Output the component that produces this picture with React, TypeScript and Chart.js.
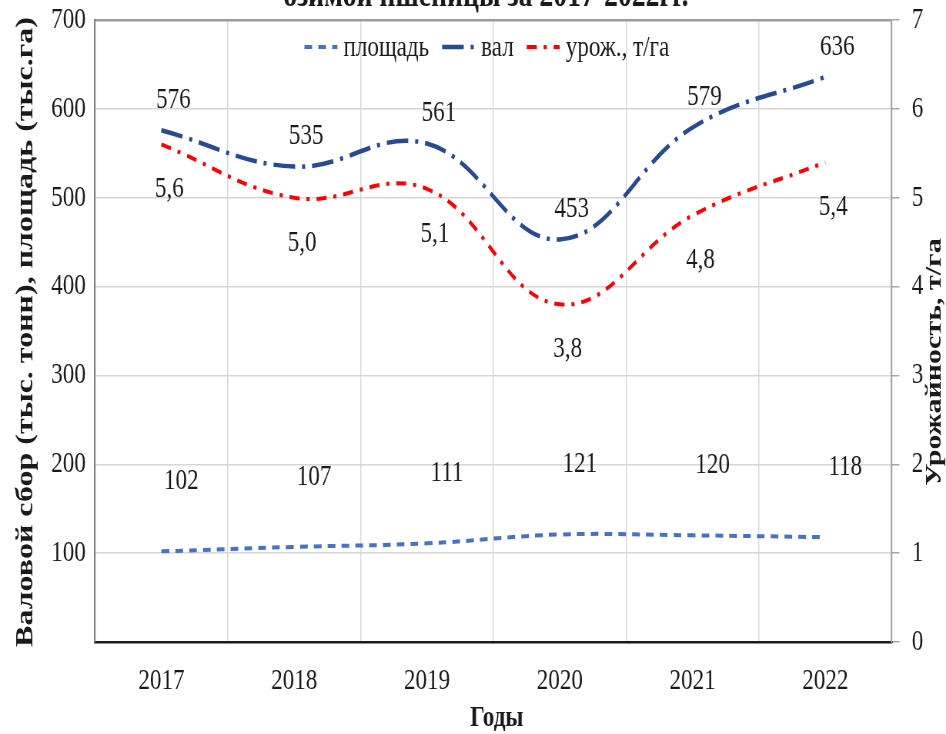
import React, { useEffect, useRef } from "react";
import { Chart, registerables } from "chart.js";

Chart.register(...registerables);

// ---- data ----
const years = ["2017", "2018", "2019", "2020", "2021", "2022"];
const areaValues = [102, 107, 111, 121, 120, 118];
const grossValues = [576, 535, 561, 453, 579, 636];
const yieldValues = [5.6, 5.0, 5.1, 3.8, 4.8, 5.4];
const seriesNames = ["площадь", "вал", "урож., т/га"];
const chartTitle = "озимой пшеницы за 2017-2022гг.";
const leftTitle = "Валовой сбор (тыс. тонн), площадь (тыс.га)";
const rightTitle = "Урожайность, т/га";
const xTitle = "Годы";

// ---- geometry (the reference is horizontally compressed) ----
const W = 946;
const H = 734;
const SX = 0.77;
const LW = Math.round(W / SX);
const L = (x: number) => x / SX;
const FAMILY = '"Liberation Serif", "Times New Roman", serif';
const TEXT = "#1a1a1a";

const decorPlugin = {
  id: "decor",
  afterDatasetsDraw(chart: any) {
    const ctx = chart.ctx as CanvasRenderingContext2D;
    const cfg = [
      { ds: 0, dx: L(20), dy: -70, fmt: (v: number) => String(v) },
      { ds: 1, dx: L(12), dy: -30, fmt: (v: number) => String(v) },
      { ds: 2, dx: L(8), dy: 45, fmt: (v: number) => v.toFixed(1).replace(".", ",") },
    ];
    ctx.save();
    ctx.font = `30px ${FAMILY}`;
    ctx.fillStyle = TEXT;
    ctx.textAlign = "center";
    ctx.textBaseline = "middle";
    for (const c of cfg) {
      const meta = chart.getDatasetMeta(c.ds);
      const data = chart.data.datasets[c.ds].data as number[];
      meta.data.forEach((pt: any, i: number) => {
        ctx.fillText(c.fmt(data[i]), pt.x + c.dx, pt.y + c.dy);
      });
    }
    ctx.restore();
  },
  afterDraw(chart: any) {
    const ctx = chart.ctx as CanvasRenderingContext2D;
    ctx.save();
    ctx.fillStyle = TEXT;

    // title (cut at the top)
    ctx.font = `bold 36px ${FAMILY}`;
    ctx.textAlign = "center";
    ctx.textBaseline = "alphabetic";
    ctx.fillText(chartTitle, L(486), 6);

    // x title
    ctx.font = `bold 30px ${FAMILY}`;
    ctx.textBaseline = "middle";
    ctx.fillText(xTitle, L(497), 718);

    // left title
    ctx.save();
    ctx.font = `bold 32px ${FAMILY}`;
    ctx.translate(L(26), 332);
    ctx.rotate(-Math.PI / 2);
    ctx.textAlign = "center";
    ctx.textBaseline = "middle";
    ctx.fillText(leftTitle, 0, 0);
    ctx.restore();

    // right title
    ctx.save();
    ctx.font = `bold 30px ${FAMILY}`;
    ctx.translate(L(935), 362);
    ctx.rotate(-Math.PI / 2);
    ctx.textAlign = "center";
    ctx.textBaseline = "middle";
    ctx.fillText(rightTitle, 0, 0);
    ctx.restore();

    // legend
    ctx.font = `30px ${FAMILY}`;
    const sample = L(33);
    const gapText = L(6);
    const gapItem = L(13);
    const items = chart.data.datasets.map((ds: any) => ({
      ds,
      w: ctx.measureText(ds.label).width,
    }));
    let total = 0;
    items.forEach((it: any, i: number) => {
      total += sample + gapText + it.w + (i < items.length - 1 ? gapItem : 0);
    });
    let x = L(487) - total / 2;
    const y = 47;
    ctx.textAlign = "left";
    ctx.textBaseline = "middle";
    for (const it of items) {
      ctx.save();
      ctx.strokeStyle = it.ds.borderColor;
      ctx.lineWidth = it.ds.borderWidth;
      ctx.setLineDash(it.ds.borderDash || []);
      ctx.lineCap = "butt";
      ctx.beginPath();
      ctx.moveTo(x, y);
      ctx.lineTo(x + sample, y);
      ctx.stroke();
      ctx.restore();
      x += sample + gapText;
      ctx.fillStyle = TEXT;
      ctx.fillText(it.ds.label, x, y + 1);
      x += it.w + gapItem;
    }
    ctx.restore();
  },
};

export default function App() {
  const ref = useRef<HTMLCanvasElement | null>(null);

  useEffect(() => {
    document.body.style.margin = "0";
    const canvas = ref.current;
    if (!canvas) return;
    const tickFont = { family: FAMILY, size: 30 };
    const chart = new Chart(canvas, {
      type: "line",
      data: {
        labels: years,
        datasets: [
          {
            label: seriesNames[0],
            data: areaValues,
            yAxisID: "y",
            borderColor: "#4472c4",
            borderWidth: 4,
            borderDash: [10, 8],
            pointRadius: 0,
            tension: 0.4,
            fill: false,
          },
          {
            label: seriesNames[1],
            data: grossValues,
            yAxisID: "y",
            borderColor: "#274a93",
            borderWidth: 4.5,
            borderDash: [28, 9, 4, 9],
            pointRadius: 0,
            tension: 0.4,
            fill: false,
          },
          {
            label: seriesNames[2],
            data: yieldValues,
            yAxisID: "yR",
            borderColor: "#ff0000",
            borderWidth: 4,
            borderDash: [13, 9, 4, 9],
            pointRadius: 0,
            tension: 0.4,
            fill: false,
          },
        ],
      },
      options: {
        responsive: false,
        animation: false,
        events: [],
        layout: { padding: { top: 20, left: 0, right: 0, bottom: 0 } },
        plugins: {
          legend: { display: false },
          title: { display: false },
          tooltip: { enabled: false },
        },
        scales: {
          x: {
            type: "category",
            offset: true,
            grid: {
              offset: true,
              color: "#dadada",
              lineWidth: 1.5,
              drawTicks: false,
            },
            border: { color: "#1a1a1a", width: 2.5 },
            ticks: { font: tickFont, color: TEXT, padding: 21, maxRotation: 0 },
            afterFit: (s: any) => {
              s.height = H - 642;
              s.paddingLeft = 0;
              s.paddingRight = 0;
            },
          },
          y: {
            position: "left",
            min: 0,
            max: 700,
            ticks: {
              stepSize: 100,
              font: tickFont,
              color: TEXT,
              padding: 12,
              callback: (v: any) => (Number(v) === 0 ? "" : String(v)),
            },
            grid: {
              drawTicks: false,
              color: (c: any) => (c.tick && c.tick.value === 700 ? "#9c9c9c" : "#d6d6d6"),
              lineWidth: (c: any) => (c.tick && c.tick.value === 700 ? 2.5 : 1.5),
            },
            border: { color: "#7f7f7f", width: 2 },
            afterFit: (s: any) => {
              s.width = L(95);
              s.paddingTop = 0;
              s.paddingBottom = 0;
            },
          },
          yR: {
            position: "right",
            min: 0,
            max: 7,
            ticks: { stepSize: 1, font: tickFont, color: TEXT, padding: 16 },
            grid: {
              drawOnChartArea: false,
              drawTicks: true,
              tickLength: 10,
              color: "#a6a6a6",
              lineWidth: 1.5,
            },
            border: { color: "#a6a6a6", width: 2 },
            afterFit: (s: any) => {
              s.width = LW - L(892);
              s.paddingTop = 0;
              s.paddingBottom = 0;
            },
          },
        },
      },
      plugins: [decorPlugin],
    } as any);
    return () => chart.destroy();
  }, []);

  return (
    <div style={{ width: W, height: H, overflow: "hidden", background: "#fff" }}>
      <canvas
        ref={ref}
        width={LW}
        height={H}
        style={{ width: `${W}px`, height: `${H}px`, display: "block" }}
      />
    </div>
  );
}
